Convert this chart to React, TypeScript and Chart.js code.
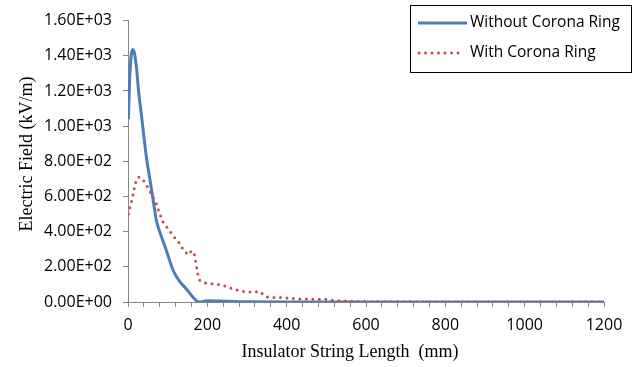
import React, { useEffect, useRef } from "react";
import { Chart, registerables } from "chart.js";

Chart.register(...registerables);

// ---- data ----
const withoutX = [1, 4, 8, 12, 17, 22, 27, 33, 39, 47, 55, 64, 72, 81, 97, 114, 131, 145, 156, 163, 169, 174, 178, 200, 250, 300, 400, 600, 800, 1000, 1200];
const withoutY = [1040, 1260, 1400, 1435, 1405, 1320, 1190, 1080, 962, 813, 701, 570, 459, 393, 291, 179, 114, 80, 49, 30, 15, 5, 0, 7, 4, 1, 0, 0, 0, 0, 0];

const withX = [1, 4, 8, 12, 18, 26, 36, 45, 54, 61, 70, 75, 81, 87, 93, 103, 114, 127, 141, 152, 160, 167, 170, 173, 176, 181, 194, 211, 228, 245, 263, 278, 295, 310, 327, 331, 341, 354, 371, 387, 404, 429, 446, 463, 480, 494, 509, 526, 560, 600, 700, 800, 1000, 1200];
const withY = [500, 530, 561, 602, 673, 710, 701, 668, 636, 602, 570, 533, 496, 459, 440, 412, 375, 343, 291, 268, 291, 276, 235, 198, 160, 123, 108, 104, 99, 90, 76, 67, 58, 56, 58, 61, 43, 26, 26, 26, 22, 18, 17, 15, 15, 17, 11, 7, 4, 2, 1, 0, 0, 0];

const seriesNames = ["Without Corona Ring", "With Corona Ring"];
const xMin = 0, xMax = 1200, xMajor = 200, xMinor = 40;
const yMin = 0, yMax = 1600, yStep = 200;
const xTitle = "Insulator String Length  (mm)";
const yTitle = "Electric Field (kV/m)";

const BLUE = "#4A7EBB";
const RED = "#C0504D";
const AXIS = "#868686";
const SANS = "'Open Sans', Lato, sans-serif";
const SERIF = "'Liberation Serif', 'DejaVu Serif', serif";

function sci(v: number): string {
  if (v === 0) return "0.00E+00";
  const e = Math.floor(Math.log10(Math.abs(v)));
  const m = v / Math.pow(10, e);
  return m.toFixed(2) + "E" + (e < 0 ? "-" : "+") + String(Math.abs(e)).padStart(2, "0");
}

const overlayPlugin = {
  id: "overlay",
  afterDraw(chart: any) {
    const ctx = chart.ctx;
    ctx.save();
    // axis titles
    ctx.fillStyle = "#000";
    ctx.font = `18px ${SERIF}`;
    ctx.textAlign = "center";
    ctx.textBaseline = "middle";
    ctx.fillText(xTitle, 350, 352);
    ctx.save();
    ctx.translate(27, 154);
    ctx.rotate(-Math.PI / 2);
    ctx.fillText(yTitle, 0, 0);
    ctx.restore();

    // legend box
    const bx = 410.5, by = 5.5, bw = 221, bh = 67;
    ctx.fillStyle = "#fff";
    ctx.fillRect(bx, by, bw, bh);
    ctx.strokeStyle = "#000";
    ctx.lineWidth = 1;
    ctx.strokeRect(bx, by, bw, bh);

    ctx.lineWidth = 3;
    ctx.strokeStyle = BLUE;
    ctx.lineCap = "butt";
    ctx.beginPath();
    ctx.moveTo(418, 23);
    ctx.lineTo(467, 23);
    ctx.stroke();

    ctx.strokeStyle = RED;
    ctx.lineCap = "round";
    ctx.setLineDash([0, 6.5]);
    ctx.beginPath();
    ctx.moveTo(419, 53);
    ctx.lineTo(462, 53);
    ctx.stroke();
    ctx.setLineDash([]);

    ctx.fillStyle = "#000";
    ctx.font = `15.5px ${SANS}`;
    ctx.textAlign = "left";
    ctx.textBaseline = "middle";
    ctx.fillText(seriesNames[0], 470, 23);
    ctx.fillText(seriesNames[1], 470, 53);
    ctx.restore();
  },
};

export default function App() {
  const ref = useRef<HTMLCanvasElement | null>(null);
  useEffect(() => {
    document.body.style.margin = "0";
    const canvas = ref.current;
    if (!canvas) return;
    const chart = new Chart(canvas, {
      type: "line",
      data: {
        datasets: [
          {
            label: seriesNames[0],
            data: withoutX.map((x, i) => ({ x, y: withoutY[i] })),
            borderColor: BLUE,
            borderWidth: 3,
            pointRadius: 0,
            fill: false,
            cubicInterpolationMode: "monotone",
            order: 1,
          },
          {
            label: seriesNames[1],
            data: withX.map((x, i) => ({ x, y: withY[i] })),
            borderColor: RED,
            borderWidth: 3,
            borderDash: [0, 6.5],
            borderCapStyle: "round",
            pointRadius: 0,
            fill: false,
            order: 0,
          },
        ],
      },
      options: {
        animation: false,
        responsive: true,
        maintainAspectRatio: false,
        layout: { padding: { top: 16, right: 33, left: 0, bottom: 0 } },
        plugins: { legend: { display: false }, tooltip: { enabled: false }, title: { display: false } },
        scales: {
          x: {
            type: "linear",
            min: xMin,
            max: xMax,
            afterFit: (s: any) => { s.height = 65; },
            afterBuildTicks: (s: any) => {
              const t = [];
              for (let v = xMin; v <= xMax; v += xMinor) t.push({ value: v });
              s.ticks = t;
            },
            ticks: {
              autoSkip: false,
              maxRotation: 0,
              padding: 9,
              color: "#000",
              font: { family: SANS, size: 16 },
              callback: (v: any) => (Number(v) % xMajor === 0 ? String(v) : ""),
            },
            grid: { drawOnChartArea: false, drawTicks: true, tickLength: 5, color: AXIS },
            border: { color: AXIS, width: 1 },
          },
          y: {
            type: "linear",
            min: yMin,
            max: yMax,
            afterFit: (s: any) => { s.width = 128; },
            ticks: {
              stepSize: yStep,
              padding: 11,
              color: "#000",
              font: { family: SANS, size: 16 },
              callback: (v: any) => sci(Number(v)),
            },
            grid: { drawOnChartArea: false, drawTicks: true, tickLength: 5, color: AXIS },
            border: { color: AXIS, width: 1 },
          },
        },
      },
      plugins: [overlayPlugin],
    } as any);
    return () => chart.destroy();
  }, []);
  return (
    <div style={{ width: 637, height: 367, position: "relative" }}>
      <canvas ref={ref} />
    </div>
  );
}
